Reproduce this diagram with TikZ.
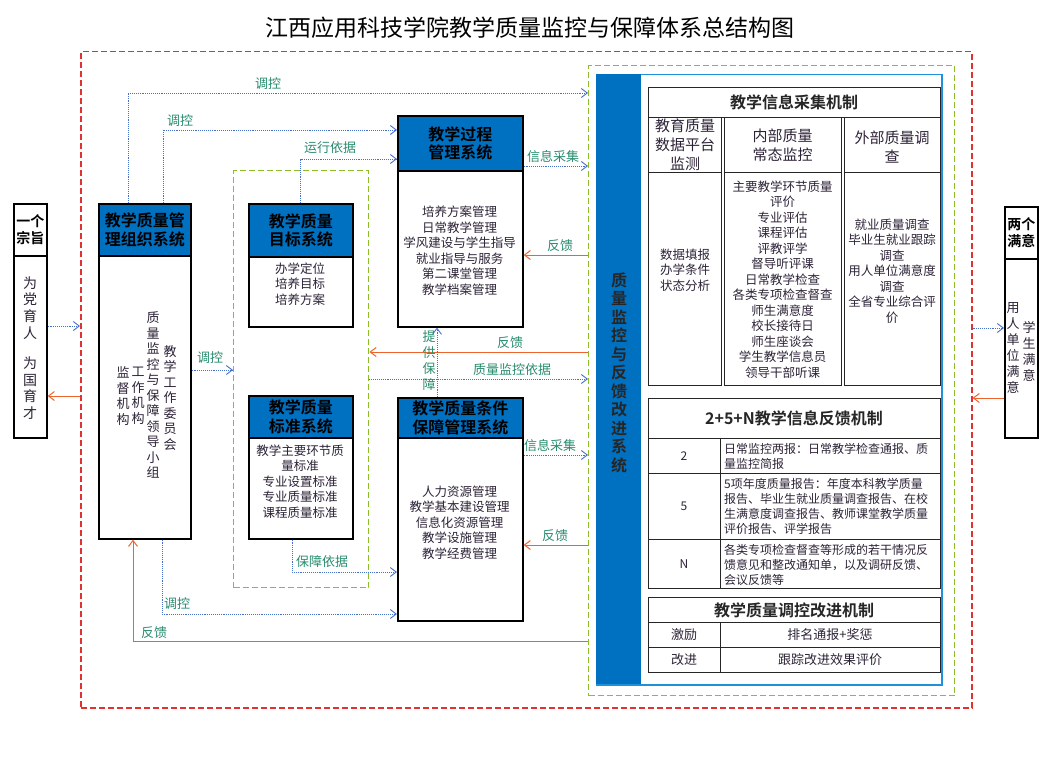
\documentclass[tikz,border=0pt]{standalone}
\usepackage{fontspec}
\setmainfont{Noto Sans CJK SC}[BoldFont={* Bold}]
\usepackage{xcolor}
\usetikzlibrary{arrows.meta, positioning}
\definecolor{hdblue}{RGB}{0,112,192}
\definecolor{panelblue}{RGB}{30,144,220}
\definecolor{redline}{RGB}{225,50,50}
\definecolor{greenline}{RGB}{140,190,40}
\definecolor{arrblue}{RGB}{70,110,205}
\definecolor{arrorange}{RGB}{235,100,45}
\definecolor{lblgreen}{RGB}{40,140,110}
\definecolor{txtdark}{RGB}{45,35,55}

\begin{document}
\begin{tikzpicture}[x=1pt, y=-1pt, >={Straight Barb[length=6pt,width=9pt]},
    sysbox/.style={draw=black, line width=1.6pt, inner sep=0, fill=white, align=center, anchor=north west},
    hdbox/.style={sysbox, fill=hdblue, font=\fontsize{16}{18.5}\selectfont\bfseries},
    smallhd/.style={sysbox, font=\fontsize{14}{17}\selectfont\bfseries},
    bodytxt/.style={font=\fontsize{12.5}{15.5}\selectfont, align=center, text=txtdark, inner sep=0},
    vtxt/.style={font=\fontsize{13}{15.5}\selectfont, align=center, text=txtdark, inner sep=0},
    lbl/.style={font=\fontsize{13}{16}\selectfont, text=lblgreen, inner sep=1pt},
    tbtitle/.style={font=\fontsize{16}{19}\selectfont\bfseries, text=black!85},
    bluearr/.style={->, arrblue, densely dotted, line width=0.9pt},
    orgarr/.style={->, arrorange, line width=1pt},
    redframe/.style={draw=redline, line width=1.5pt, dash pattern=on 6pt off 3pt, inner sep=0, anchor=north west},
    greenframe/.style={draw=greenline, line width=1.4pt, dash pattern=on 6pt off 3pt, inner sep=0, anchor=north west},
    cell/.style={draw=black!85, line width=0.9pt}]
    \useasboundingbox (0,0) rectangle (1048,765);

    % 标题
    \node[font=\fontsize{23}{26}\selectfont] (title) at (530,28) {江西应用科技学院教学质量监控与保障体系总结构图};

    % 虚线框
    \node[redframe, minimum width=891pt, minimum height=656pt] (frame) at (80,51) {};
    \node[greenframe, minimum width=135pt, minimum height=417pt] (gin) at (233,170) {};
    \node[greenframe, minimum width=366pt, minimum height=630pt] (gout) at (588,65) {};

    % 一个宗旨
    \node[smallhd, minimum width=33pt, minimum height=52pt] (zzH) at (13,203) {一个\\宗旨};
    \node[sysbox, minimum width=33pt, minimum height=182pt] (zz) at (13,255) {};
    \node[vtxt, font=\fontsize{14}{16.7}\selectfont] (zz1) at (30,308) {为\\党\\育\\人};
    \node[vtxt, font=\fontsize{14}{16.7}\selectfont] (zz2) at (30,388) {为\\国\\育\\才};

    % 组织系统
    \node[hdbox, minimum width=92pt, minimum height=52pt] (orgH) at (98,203) {教学质量管\\理组织系统};
    \node[sysbox, minimum width=92pt, minimum height=283pt] (org) at (98,255) {};
    \node[vtxt] (orgA) at (170,398) {教\\学\\工\\作\\委\\员\\会};
    \node[vtxt] (orgB) at (153,395) {质\\量\\监\\控\\与\\保\\障\\领\\导\\小\\组};
    \node[vtxt] (orgC) at (138,396) {工\\作\\机\\构};
    \node[vtxt] (orgD) at (123,396) {监\\督\\机\\构};

    % 目标系统 / 标准系统
    \node[hdbox, minimum width=104pt, minimum height=53pt] (tgH) at (248,203) {教学质量\\目标系统};
    \node[sysbox, minimum width=104pt, minimum height=70pt] (tg) at (248,256) {};
    \node[bodytxt] (tgt) at (300,284) {办学定位\\培养目标\\培养方案};
    \node[hdbox, minimum width=104pt, minimum height=42pt] (stH) at (248,395) {教学质量\\标准系统};
    \node[sysbox, minimum width=104pt, minimum height=101pt] (st) at (248,437) {};
    \node[bodytxt] (stt) at (300,481.5) {教学主要环节质\\量标准\\专业设置标准\\专业质量标准\\课程质量标准};

    % 过程管理 / 条件保障
    \node[hdbox, minimum width=125pt, minimum height=55pt] (prH) at (397,115) {教学过程\\管理系统};
    \node[sysbox, minimum width=125pt, minimum height=156pt] (pr) at (397,170) {};
    \node[bodytxt] (prt) at (459.5,250.5) {培养方案管理\\日常教学管理\\学风建设与学生指导\\就业指导与服务\\第二课堂管理\\教学档案管理};
    \node[hdbox, minimum width=125pt, minimum height=40pt] (cdH) at (397,397) {教学质量条件\\保障管理系统};
    \node[sysbox, minimum width=125pt, minimum height=183pt] (cd) at (397,437) {};
    \node[bodytxt] (cdt) at (459.5,522.5) {人力资源管理\\教学基本建设管理\\信息化资源管理\\教学设施管理\\教学经费管理};

    % 质量监控与反馈改进系统
    \node[draw=panelblue, line width=1.5pt, inner sep=0, anchor=north west, minimum width=345pt, minimum height=610pt] (panel) at (596,74) {};
    \node[fill=hdblue, inner sep=0, anchor=north west, minimum width=45pt, minimum height=610pt] (strip) at (596,74) {};
    \node[font=\fontsize{16}{18.5}\selectfont\bfseries, align=center, text=black!85, inner sep=0] (stript) at (619,372.5) {质\\量\\监\\控\\与\\反\\馈\\改\\进\\系\\统};

    % 教学信息采集机制
    \draw[cell] (648,87) rectangle (940,117);
    \node[tbtitle] (t1) at (794,102) {教学信息采集机制};
    \foreach \a/\b in {648/721, 724/841, 844/940} {
        \draw[cell] (\a,117) rectangle (\b,385);
        \draw[cell] (\a,172) -- (\b,172);
    }
    \node[bodytxt, font=\fontsize{15}{19}\selectfont] (c1h) at (685,145) {教育质量\\数据平台\\监测};
    \node[bodytxt, font=\fontsize{15}{19}\selectfont] (c2h) at (782.5,145.5) {内部质量\\常态监控};
    \node[bodytxt, font=\fontsize{15}{19}\selectfont] (c3h) at (892,147) {外部质量调\\查};
    \node[bodytxt] (c1b) at (685,270) {数据填报\\办学条件\\状态分析};
    \node[bodytxt] (c2b) at (782.5,279.5) {主要教学环节质量\\评价\\专业评估\\课程评估\\评教评学\\督导听评课\\日常教学检查\\各类专项检查督查\\师生满意度\\校长接待日\\师生座谈会\\学生教学信息员\\领导干部听课};
    \node[bodytxt] (c3b) at (892,271) {就业质量调查\\毕业生就业跟踪\\调查\\用人单位满意度\\调查\\全省专业综合评\\价};

    % 2+5+N教学信息反馈机制
    \draw[cell] (648,398) rectangle (940,588);
    \foreach \y in {438, 473, 539} \draw[cell] (648,\y) -- (940,\y);
    \draw[cell] (720,438) -- (720,588);
    \node[tbtitle] (t2) at (794,418) {2+5+N教学信息反馈机制};
    \node[bodytxt, font=\fontsize{12}{15}\selectfont] (r2) at (684,456) {2};
    \node[bodytxt, font=\fontsize{12}{15}\selectfont] (r5) at (684,506) {5};
    \node[bodytxt, font=\fontsize{12}{15}\selectfont] (rN) at (684,564) {N};
    \node[bodytxt, font=\fontsize{12}{15}\selectfont, align=left, anchor=west] (r2t) at (724,456) {日常监控两报：日常教学检查通报、质\\量监控简报};
    \node[bodytxt, font=\fontsize{12}{15}\selectfont, align=left, anchor=west] (r5t) at (724,506) {5项年度质量报告：年度本科教学质量\\报告、毕业生就业质量调查报告、在校\\生满意度调查报告、教师课堂教学质量\\评价报告、评学报告};
    \node[bodytxt, font=\fontsize{12}{15}\selectfont, align=left, anchor=west] (rNt) at (724,565) {各类专项检查督查等形成的若干情况反\\馈意见和整改通知单，以及调研反馈、\\会议反馈等};

    % 教学质量调控改进机制
    \draw[cell] (648,597) rectangle (940,672);
    \foreach \y in {622, 647} \draw[cell] (648,\y) -- (940,\y);
    \draw[cell] (720,622) -- (720,672);
    \node[tbtitle] (t3) at (794,610) {教学质量调控改进机制};
    \node[bodytxt, font=\fontsize{13}{15}\selectfont] (k1) at (684,634.5) {激励};
    \node[bodytxt, font=\fontsize{13}{15}\selectfont] (k1t) at (830,634.5) {排名通报+奖惩};
    \node[bodytxt, font=\fontsize{13}{15}\selectfont] (k2) at (684,659.5) {改进};
    \node[bodytxt, font=\fontsize{13}{15}\selectfont] (k2t) at (830,659.5) {跟踪改进效果评价};

    % 两个满意
    \node[smallhd, minimum width=33pt, minimum height=52pt] (msH) at (1004,206) {两个\\满意};
    \node[sysbox, minimum width=33pt, minimum height=179pt] (ms) at (1004,258) {};
    \node[vtxt, font=\fontsize{13}{16}\selectfont] (ms1) at (1013,348) {用\\人\\单\\位\\满\\意};
    \node[vtxt, font=\fontsize{13}{16}\selectfont] (ms2) at (1029,351) {学\\生\\满\\意};

    % 连线
    \draw[bluearr] (zz.east |- 0,326) -- (frame.west |- 0,326);
    \draw[orgarr] (frame.west |- 0,396) -- (zz.east |- 0,396);
    \draw[bluearr] (frame.east |- 0,328) -- (ms.west |- 0,328);
    \draw[orgarr] (ms.west |- 0,398) -- (frame.east |- 0,398);

    \draw[bluearr] (orgH.north -| 128,0) |- (gout.west |- 0,93);
    \node[lbl] (l1) at (268,84) {调控};
    \draw[bluearr] (orgH.north -| 163,0) |- (prH.west |- 0,130);
    \node[lbl] (l2) at (180,121) {调控};
    \draw[bluearr] (tgH.north) |- (prH.west |- 0,159);
    \node[lbl] (l3) at (330,148) {运行依据};
    \draw[bluearr] (prH.east |- 0,166) -- (gout.west |- 0,166);
    \node[lbl] (l4) at (553,157) {信息采集};
    \draw[orgarr] (gout.west |- 0,255) -- (pr.east |- 0,255);
    \node[lbl] (l5) at (560,246) {反馈};
    \draw[orgarr] (gout.west |- 0,352) -- (gin.east |- 0,352);
    \node[lbl] (l6) at (510,343) {反馈};
    \draw[bluearr] (gin.east |- 0,379) -- (gout.west |- 0,379);
    \node[lbl] (l7) at (512,370) {质量监控依据};
    \draw[bluearr] (cdH.north -| 437,0) -- (pr.south -| 437,0);
    \node[lbl, font=\fontsize{13}{16}\selectfont, align=center, inner sep=0] (l8) at (429,361) {提\\供\\保\\障};
    \draw[bluearr] (org.east |- 0,370) -- (gin.west |- 0,370);
    \node[lbl] (l9) at (210,358) {调控};
    \draw[bluearr] (cd.east |- 0,455) -- (gout.west |- 0,455);
    \node[lbl] (l10) at (550,446) {信息采集};
    \draw[orgarr] (gout.west |- 0,545) -- (cd.east |- 0,545);
    \node[lbl] (l11) at (555,536) {反馈};
    \draw[bluearr] (st.south -| 292,0) |- (cd.west |- 0,572);
    \node[lbl] (l12) at (322,562) {保障依据};
    \draw[bluearr] (org.south -| 162,0) |- (cd.west |- 0,614);
    \node[lbl] (l13) at (177,604) {调控};
    \draw[orgarr] (gout.west |- 0,641) -| (org.south -| 133,0);
    \node[lbl] (l14) at (154,633) {反馈};
\end{tikzpicture}
\end{document}
